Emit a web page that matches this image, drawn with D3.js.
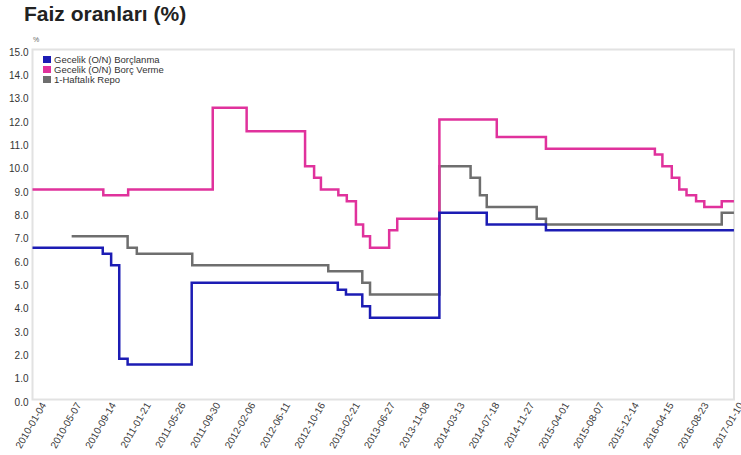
<!DOCTYPE html>
<html>
<head>
<meta charset="utf-8">
<script src="https://cdn.jsdelivr.net/npm/d3@7"></script>
<style>
  body { margin: 0; background: #fff; }
  svg { display: block; font-family: "Liberation Sans", Arial, sans-serif; }
</style>
</head>
<body>
<svg id="chart"></svg>
<script>
// Tick labels on the date axis
const tickLabels = ["2010-01-04", "2010-05-07", "2010-09-14", "2011-01-21", "2011-05-26",
  "2011-09-30", "2012-02-06", "2012-06-11", "2012-10-16", "2013-02-21", "2013-06-27",
  "2013-11-08", "2014-03-13", "2014-07-18", "2014-11-27", "2015-04-01", "2015-08-07",
  "2015-12-14", "2016-04-15", "2016-08-23", "2017-01-10"];
const lastDate = "2017-01-27";

const seriesNames = ["Gecelik (O/N) Borçlanma", "Gecelik (O/N) Borç Verme", "1-Haftalık Repo"];

// Gecelik (O/N) Borçlanma
const borrowDates = ["2010-01-04", "2010-09-16", "2010-10-17", "2010-11-16", "2010-12-17",
  "2011-08-06", "2013-01-21", "2013-02-20", "2013-04-20", "2013-05-18", "2014-01-31",
  "2014-07-22", "2015-02-26", lastDate];
const borrowRates = [6.5, 6.25, 5.75, 1.75, 1.5, 5.0, 4.7, 4.5, 4.0, 3.5, 8.0, 7.5, 7.25, 7.25];

// Gecelik (O/N) Borç Verme
const lendDates = ["2010-01-04", "2010-09-18", "2010-12-19", "2011-10-22", "2012-02-24",
  "2012-09-23", "2012-10-26", "2012-11-20", "2013-01-23", "2013-02-23", "2013-03-28",
  "2013-04-23", "2013-05-18", "2013-07-28", "2013-08-28", "2014-01-31", "2014-08-29",
  "2015-02-26", "2016-03-28", "2016-04-24", "2016-05-29", "2016-06-26", "2016-07-23",
  "2016-08-28", "2016-09-30", "2016-12-09", lastDate];
const lendRates = [9.0, 8.75, 9.0, 12.5, 11.5, 10.0, 9.5, 9.0, 8.75, 8.5, 7.5, 7.0, 6.5,
  7.25, 7.75, 12.0, 11.25, 10.75, 10.5, 10.0, 9.5, 9.0, 8.75, 8.5, 8.25, 8.5, 8.5];

// 1-Haftalık Repo
const repoDates = ["2010-05-23", "2010-12-17", "2011-01-20", "2011-08-08", "2012-12-17",
  "2013-04-20", "2013-05-18", "2014-01-31", "2014-05-24", "2014-06-27", "2014-07-22",
  "2015-01-24", "2015-02-26", "2016-12-09", lastDate];
const repoRates = [7.0, 6.5, 6.25, 5.75, 5.5, 5.0, 4.5, 10.0, 9.5, 8.75, 8.25, 7.75, 7.5, 8.0, 8.0];

const yTicks = d3.range(0, 15.5, 1);

const width = 741, height = 455;
const plotLeft = 32.5, plotRight = 734, plotTop = 49.5, plotBottom = 399.5;
const tickStep = 34.86;

const parse = d3.timeParse("%Y-%m-%d");
const colors = ["#1c1cb4", "#e0329c", "#6e6e6e"];

const svg = d3.select("#chart").attr("width", width).attr("height", height);

// title
svg.append("text")
  .attr("x", 24).attr("y", 21)
  .attr("font-size", 21).attr("font-weight", "bold").attr("fill", "#222")
  .text("Faiz oranları (%)");

// ticks are evenly spaced, so map the dates piecewise onto them
const tickDates = tickLabels.map(parse);
const x = d3.scaleTime()
  .domain(tickDates)
  .range(tickDates.map((d, i) => plotLeft + i * tickStep));

const y = d3.scaleLinear().domain([0, 15]).range([plotBottom, plotTop]);

// frame
svg.append("rect")
  .attr("x", plotLeft).attr("y", plotTop)
  .attr("width", plotRight - plotLeft).attr("height", plotBottom - plotTop)
  .attr("fill", "none").attr("stroke", "#e2e2e2").attr("stroke-width", 2);

// y axis
const yAxis = svg.append("g")
  .attr("transform", `translate(${plotLeft},0)`)
  .call(d3.axisLeft(y).tickValues(yTicks).tickFormat(d3.format(".1f")).tickSize(0).tickPadding(4));
yAxis.select(".domain").remove();
yAxis.selectAll("text").attr("font-size", 10).attr("fill", "#333").attr("dy", "0.55em")
  .attr("font-family", "'Liberation Sans', Arial, sans-serif");

svg.append("text")
  .attr("x", 33).attr("y", 42)
  .attr("font-size", 7).attr("fill", "#666")
  .text("%");

// x axis
const xAxis = svg.append("g")
  .attr("transform", `translate(0,${plotBottom})`)
  .call(d3.axisBottom(x).tickValues(tickDates).tickFormat(d3.timeFormat("%Y-%m-%d")).tickSize(0));
xAxis.select(".domain").remove();
xAxis.selectAll("text")
  .attr("font-size", 10).attr("fill", "#3a3a3a")
  .attr("font-family", "'Liberation Sans', Arial, sans-serif")
  .attr("text-anchor", "end")
  .attr("dx", 0).attr("dy", 0)
  .attr("transform", "translate(11,4) rotate(-60)");

// lines
const line = d3.line()
  .x(d => x(d.date))
  .y(d => y(d.value))
  .curve(d3.curveStepAfter);

const series = [
  { dates: borrowDates, rates: borrowRates },
  { dates: lendDates, rates: lendRates },
  { dates: repoDates, rates: repoRates }
].map(s => s.dates.map((d, i) => ({ date: parse(d), value: s.rates[i] })));

// draw gray first, then pink, then blue on top
[2, 1, 0].forEach(i => {
  svg.append("path")
    .datum(series[i])
    .attr("fill", "none")
    .attr("stroke", colors[i])
    .attr("stroke-width", 2.5)
    .attr("d", line);
});

// legend
const legend = svg.append("g").attr("transform", "translate(43,56)");
seriesNames.forEach((name, i) => {
  legend.append("rect")
    .attr("x", 0).attr("y", i * 10)
    .attr("width", 8).attr("height", 7)
    .attr("fill", colors[i]);
  legend.append("text")
    .attr("x", 11).attr("y", i * 10 + 7)
    .attr("font-size", 9.5).attr("fill", "#333")
    .text(name);
});
</script>
</body>
</html>
